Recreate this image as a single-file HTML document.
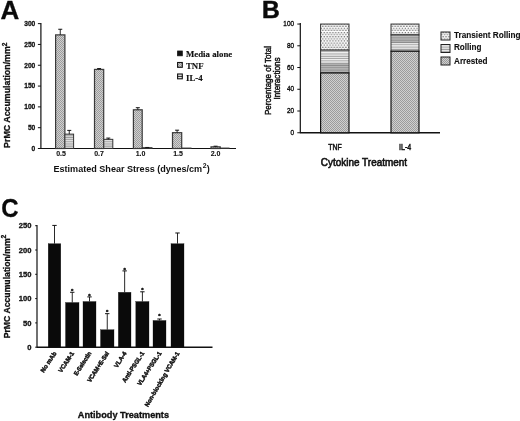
<!DOCTYPE html>
<html lang="en"><head><meta charset="utf-8"><title>Figure</title>
<style>
html,body{margin:0;padding:0;background:#fff;}
body{width:520px;height:421px;overflow:hidden;font-family:"Liberation Sans", Arial, Helvetica, sans-serif;}
svg{display:block;}
</style></head><body>
<svg width="520" height="421" viewBox="0 0 520 421">
<rect width="520" height="421" fill="#fff"/>
<defs>
<pattern id="pDot" width="2" height="2" patternUnits="userSpaceOnUse"><rect width="2" height="2" fill="#d0d0d0"/><rect width="1" height="1" fill="#9c9c9c"/><rect x="1" y="1" width="1" height="1" fill="#9c9c9c"/></pattern>
<pattern id="pHor" width="4" height="2.3" patternUnits="userSpaceOnUse"><rect width="4" height="2.3" fill="#f0f0f0"/><rect y="0.6" width="4" height="0.8" fill="#8a8a8a"/></pattern>
<pattern id="pSparse" width="2.9" height="4.2" patternUnits="userSpaceOnUse"><rect width="2.9" height="4.2" fill="#fbfbfb"/><rect x="0.2" y="0.5" width="1.3" height="1.1" fill="#5c5c5c"/><rect x="1.65" y="2.6" width="1.3" height="1.1" fill="#5c5c5c"/></pattern>
<pattern id="pHorA" width="4" height="2.2" patternUnits="userSpaceOnUse"><rect width="4" height="2.2" fill="#e2e2e2"/><rect y="0.5" width="4" height="0.8" fill="#8a8a8a"/></pattern>
</defs>
<text transform="translate(0.5 18.7) scale(1.04 1)" font-size="25" font-weight="bold" font-family='"Liberation Sans", Arial, Helvetica, sans-serif' fill="#0a0a0a" stroke="#0a0a0a" stroke-width="0.3">A</text>
<line x1="40.90" y1="23.00" x2="40.90" y2="149.00" stroke="#111" stroke-width="1.2"/>
<line x1="40.40" y1="148.50" x2="236.00" y2="148.50" stroke="#111" stroke-width="1.15"/>
<line x1="37.90" y1="148.50" x2="40.90" y2="148.50" stroke="#111" stroke-width="1"/>
<text x="35.3" y="150.9" font-size="7.4" font-weight="bold" text-anchor="end" font-family='"Liberation Sans", Arial, Helvetica, sans-serif' fill="#111" textLength="3.7" lengthAdjust="spacingAndGlyphs" stroke="#111" stroke-width="0.3">0</text>
<line x1="37.90" y1="127.69" x2="40.90" y2="127.69" stroke="#111" stroke-width="1"/>
<text x="35.3" y="130.09" font-size="7.4" font-weight="bold" text-anchor="end" font-family='"Liberation Sans", Arial, Helvetica, sans-serif' fill="#111" textLength="7.4" lengthAdjust="spacingAndGlyphs" stroke="#111" stroke-width="0.3">50</text>
<line x1="37.90" y1="106.88" x2="40.90" y2="106.88" stroke="#111" stroke-width="1"/>
<text x="35.3" y="109.28" font-size="7.4" font-weight="bold" text-anchor="end" font-family='"Liberation Sans", Arial, Helvetica, sans-serif' fill="#111" textLength="11.1" lengthAdjust="spacingAndGlyphs" stroke="#111" stroke-width="0.3">100</text>
<line x1="37.90" y1="86.07" x2="40.90" y2="86.07" stroke="#111" stroke-width="1"/>
<text x="35.3" y="88.47" font-size="7.4" font-weight="bold" text-anchor="end" font-family='"Liberation Sans", Arial, Helvetica, sans-serif' fill="#111" textLength="11.1" lengthAdjust="spacingAndGlyphs" stroke="#111" stroke-width="0.3">150</text>
<line x1="37.90" y1="65.26" x2="40.90" y2="65.26" stroke="#111" stroke-width="1"/>
<text x="35.3" y="67.66" font-size="7.4" font-weight="bold" text-anchor="end" font-family='"Liberation Sans", Arial, Helvetica, sans-serif' fill="#111" textLength="11.1" lengthAdjust="spacingAndGlyphs" stroke="#111" stroke-width="0.3">200</text>
<line x1="37.90" y1="44.45" x2="40.90" y2="44.45" stroke="#111" stroke-width="1"/>
<text x="35.3" y="46.85" font-size="7.4" font-weight="bold" text-anchor="end" font-family='"Liberation Sans", Arial, Helvetica, sans-serif' fill="#111" textLength="11.1" lengthAdjust="spacingAndGlyphs" stroke="#111" stroke-width="0.3">250</text>
<line x1="37.90" y1="23.64" x2="40.90" y2="23.64" stroke="#111" stroke-width="1"/>
<text x="35.3" y="26.04" font-size="7.4" font-weight="bold" text-anchor="end" font-family='"Liberation Sans", Arial, Helvetica, sans-serif' fill="#111" textLength="11.1" lengthAdjust="spacingAndGlyphs" stroke="#111" stroke-width="0.3">300</text>
<rect x="55.60" y="34.88" width="9.30" height="113.62" fill="url(#pDot)" stroke="#3a3a3a" stroke-width="1.2"/>
<line x1="60.25" y1="34.88" x2="60.25" y2="29.26" stroke="#111" stroke-width="0.9"/>
<line x1="58.25" y1="29.26" x2="62.25" y2="29.26" stroke="#111" stroke-width="1"/>
<rect x="64.90" y="134.14" width="8.70" height="14.36" fill="url(#pHorA)" stroke="#333" stroke-width="1.0"/>
<line x1="69.25" y1="134.14" x2="69.25" y2="130.40" stroke="#111" stroke-width="0.9"/>
<line x1="67.25" y1="130.40" x2="71.25" y2="130.40" stroke="#111" stroke-width="1"/>
<rect x="94.50" y="69.42" width="9.20" height="79.08" fill="url(#pDot)" stroke="#3a3a3a" stroke-width="1.2"/>
<line x1="99.10" y1="69.42" x2="99.10" y2="68.59" stroke="#111" stroke-width="0.9"/>
<line x1="97.10" y1="68.59" x2="101.10" y2="68.59" stroke="#111" stroke-width="1"/>
<rect x="103.80" y="139.34" width="9.00" height="9.16" fill="url(#pHorA)" stroke="#333" stroke-width="1.0"/>
<line x1="108.30" y1="139.34" x2="108.30" y2="138.09" stroke="#111" stroke-width="0.9"/>
<line x1="106.30" y1="138.09" x2="110.30" y2="138.09" stroke="#111" stroke-width="1"/>
<rect x="133.40" y="109.79" width="8.80" height="38.71" fill="url(#pDot)" stroke="#3a3a3a" stroke-width="1.2"/>
<line x1="137.80" y1="109.79" x2="137.80" y2="107.71" stroke="#111" stroke-width="0.9"/>
<line x1="135.80" y1="107.71" x2="139.80" y2="107.71" stroke="#111" stroke-width="1"/>
<rect x="142.50" y="147.67" width="9.50" height="0.83" fill="url(#pHorA)" stroke="#333" stroke-width="1.0"/>
<line x1="147.25" y1="147.67" x2="147.25" y2="147.46" stroke="#111" stroke-width="0.9"/>
<line x1="145.25" y1="147.46" x2="149.25" y2="147.46" stroke="#111" stroke-width="1"/>
<rect x="172.50" y="132.68" width="9.20" height="15.82" fill="url(#pDot)" stroke="#3a3a3a" stroke-width="1.2"/>
<line x1="177.10" y1="132.68" x2="177.10" y2="130.19" stroke="#111" stroke-width="0.9"/>
<line x1="175.10" y1="130.19" x2="179.10" y2="130.19" stroke="#111" stroke-width="1"/>
<rect x="182.00" y="148.08" width="9.00" height="0.42" fill="url(#pHorA)" stroke="#333" stroke-width="1.0"/>
<rect x="211.00" y="146.84" width="9.20" height="1.66" fill="url(#pDot)" stroke="#3a3a3a" stroke-width="1.2"/>
<line x1="215.60" y1="146.84" x2="215.60" y2="146.21" stroke="#111" stroke-width="0.9"/>
<line x1="213.60" y1="146.21" x2="217.60" y2="146.21" stroke="#111" stroke-width="1"/>
<rect x="220.50" y="148.08" width="8.50" height="0.42" fill="url(#pHorA)" stroke="#333" stroke-width="1.0"/>
<text x="61" y="156.4" font-size="7.0" font-weight="bold" text-anchor="middle" font-family='"Liberation Sans", Arial, Helvetica, sans-serif' fill="#111" stroke="#111" stroke-width="0.1">0.5</text>
<text x="99" y="156.4" font-size="7.0" font-weight="bold" text-anchor="middle" font-family='"Liberation Sans", Arial, Helvetica, sans-serif' fill="#111" stroke="#111" stroke-width="0.1">0.7</text>
<text x="140.5" y="156.4" font-size="7.0" font-weight="bold" text-anchor="middle" font-family='"Liberation Sans", Arial, Helvetica, sans-serif' fill="#111" stroke="#111" stroke-width="0.1">1.0</text>
<text x="178" y="156.4" font-size="7.0" font-weight="bold" text-anchor="middle" font-family='"Liberation Sans", Arial, Helvetica, sans-serif' fill="#111" stroke="#111" stroke-width="0.1">1.5</text>
<text x="215.5" y="156.4" font-size="7.0" font-weight="bold" text-anchor="middle" font-family='"Liberation Sans", Arial, Helvetica, sans-serif' fill="#111" stroke="#111" stroke-width="0.1">2.0</text>
<text x="53.5" y="172.3" font-size="9.07" font-weight="bold" text-anchor="start" font-family='"Liberation Sans", Arial, Helvetica, sans-serif' fill="#111" >Estimated Shear Stress (dynes/cm<tspan dy="-3.9" dx="0.6" font-size="6.9">2</tspan><tspan dy="3.9" dx="0.3">)</tspan></text>
<text transform="translate(10.0 147.9) rotate(-90)" font-size="8.83" font-weight="bold" font-family='"Liberation Sans", Arial, Helvetica, sans-serif' fill="#111" stroke="#111" stroke-width="0.3">PrMC Accumulation/mm<tspan dy="-3.3" font-size="6.6">2</tspan></text>
<rect x="177.60" y="51.00" width="4.70" height="4.80" fill="#111" stroke="#111" stroke-width="0.8"/>
<rect x="177.60" y="62.50" width="4.70" height="4.80" fill="url(#pDot)" stroke="#111" stroke-width="1.1"/>
<rect x="177.60" y="74.00" width="4.70" height="4.80" fill="#e8e8e8" stroke="#111" stroke-width="1.1"/>
<line x1="177.50" y1="76.40" x2="182.50" y2="76.40" stroke="#111" stroke-width="0.9"/>
<text x="186" y="57" font-size="8.8" font-weight="bold" text-anchor="start" font-family='"Liberation Serif", "Times New Roman", serif' fill="#111" stroke="#111" stroke-width="0.15">Media alone</text>
<text x="186" y="69" font-size="8.8" font-weight="bold" text-anchor="start" font-family='"Liberation Serif", "Times New Roman", serif' fill="#111" stroke="#111" stroke-width="0.15">TNF</text>
<text x="186" y="80.5" font-size="8.8" font-weight="bold" text-anchor="start" font-family='"Liberation Serif", "Times New Roman", serif' fill="#111" stroke="#111" stroke-width="0.15">IL-4</text>
<text transform="translate(262.0 18.2) scale(1 1)" font-size="24.6" font-weight="bold" font-family='"Liberation Sans", Arial, Helvetica, sans-serif' fill="#0a0a0a" stroke="#0a0a0a" stroke-width="0.5">B</text>
<line x1="300.30" y1="23.00" x2="300.30" y2="133.25" stroke="#111" stroke-width="1.2"/>
<line x1="300.30" y1="132.75" x2="440.00" y2="132.75" stroke="#111" stroke-width="1.4"/>
<line x1="297.30" y1="132.75" x2="300.30" y2="132.75" stroke="#111" stroke-width="1"/>
<text x="294.0" y="134.75" font-size="8" font-weight="normal" text-anchor="end" font-family='"Liberation Sans", Arial, Helvetica, sans-serif' fill="#111" textLength="3.55" lengthAdjust="spacingAndGlyphs" stroke="#111" stroke-width="0.4">0</text>
<line x1="297.30" y1="111.01" x2="300.30" y2="111.01" stroke="#111" stroke-width="1"/>
<text x="294.0" y="113.01" font-size="8" font-weight="normal" text-anchor="end" font-family='"Liberation Sans", Arial, Helvetica, sans-serif' fill="#111" textLength="7.1" lengthAdjust="spacingAndGlyphs" stroke="#111" stroke-width="0.4">20</text>
<line x1="297.30" y1="89.27" x2="300.30" y2="89.27" stroke="#111" stroke-width="1"/>
<text x="294.0" y="91.27" font-size="8" font-weight="normal" text-anchor="end" font-family='"Liberation Sans", Arial, Helvetica, sans-serif' fill="#111" textLength="7.1" lengthAdjust="spacingAndGlyphs" stroke="#111" stroke-width="0.4">40</text>
<line x1="297.30" y1="67.53" x2="300.30" y2="67.53" stroke="#111" stroke-width="1"/>
<text x="294.0" y="69.53" font-size="8" font-weight="normal" text-anchor="end" font-family='"Liberation Sans", Arial, Helvetica, sans-serif' fill="#111" textLength="7.1" lengthAdjust="spacingAndGlyphs" stroke="#111" stroke-width="0.4">60</text>
<line x1="297.30" y1="45.79" x2="300.30" y2="45.79" stroke="#111" stroke-width="1"/>
<text x="294.0" y="47.79" font-size="8" font-weight="normal" text-anchor="end" font-family='"Liberation Sans", Arial, Helvetica, sans-serif' fill="#111" textLength="7.1" lengthAdjust="spacingAndGlyphs" stroke="#111" stroke-width="0.4">80</text>
<line x1="297.30" y1="24.05" x2="300.30" y2="24.05" stroke="#111" stroke-width="1"/>
<text x="294.0" y="26.05" font-size="8" font-weight="normal" text-anchor="end" font-family='"Liberation Sans", Arial, Helvetica, sans-serif' fill="#111" textLength="10.65" lengthAdjust="spacingAndGlyphs" stroke="#111" stroke-width="0.4">100</text>
<rect x="320.60" y="24.05" width="28.40" height="26.09" fill="url(#pSparse)" stroke="#333" stroke-width="1.0"/>
<rect x="320.60" y="50.14" width="28.40" height="22.83" fill="url(#pHor)" stroke="#333" stroke-width="1.0"/>
<rect x="321.0" y="63.18" width="27.599999999999977" height="9.24" fill="#777" opacity="0.45"/>
<rect x="320.60" y="72.97" width="28.40" height="59.78" fill="url(#pDot)" stroke="#111" stroke-width="1.2"/>
<rect x="391.00" y="24.05" width="28.00" height="10.87" fill="url(#pSparse)" stroke="#333" stroke-width="1.0"/>
<rect x="391.00" y="34.92" width="28.00" height="16.30" fill="url(#pHor)" stroke="#333" stroke-width="1.0"/>
<rect x="391.4" y="36.01" width="27.2" height="7.07" fill="#777" opacity="0.45"/>
<rect x="391.00" y="51.23" width="28.00" height="81.52" fill="url(#pDot)" stroke="#111" stroke-width="1.2"/>
<text x="335" y="150" font-size="9" font-weight="normal" text-anchor="middle" font-family='"Liberation Sans", Arial, Helvetica, sans-serif' fill="#111" textLength="13.5" lengthAdjust="spacingAndGlyphs" stroke="#111" stroke-width="0.5">TNF</text>
<text x="405.2" y="150" font-size="9" font-weight="normal" text-anchor="middle" font-family='"Liberation Sans", Arial, Helvetica, sans-serif' fill="#111" textLength="12.3" lengthAdjust="spacingAndGlyphs" stroke="#111" stroke-width="0.5">IL-4</text>
<text x="320.8" y="165.9" font-size="10.6" font-weight="normal" text-anchor="start" font-family='"Liberation Sans", Arial, Helvetica, sans-serif' fill="#111" textLength="86.3" lengthAdjust="spacingAndGlyphs" stroke="#111" stroke-width="0.6">Cytokine Treatment</text>
<text transform="translate(271.2 80.5) rotate(-90)" font-size="8.7" text-anchor="middle" font-family='"Liberation Sans", Arial, Helvetica, sans-serif' fill="#111" textLength="69" lengthAdjust="spacingAndGlyphs" stroke="#111" stroke-width="0.45">Percentage of Total</text>
<text transform="translate(280.4 78.4) rotate(-90)" font-size="8.7" text-anchor="middle" font-family='"Liberation Sans", Arial, Helvetica, sans-serif' fill="#111" textLength="42" lengthAdjust="spacingAndGlyphs" stroke="#111" stroke-width="0.45">Interactions</text>
<rect x="441.00" y="32.00" width="9.00" height="8.00" fill="url(#pSparse)" stroke="#222" stroke-width="1.0"/>
<rect x="441.00" y="44.50" width="9.00" height="8.00" fill="url(#pHor)" stroke="#222" stroke-width="1.0"/>
<rect x="441.00" y="57.00" width="9.00" height="8.00" fill="url(#pDot)" stroke="#222" stroke-width="1.0"/>
<text x="454" y="37.7" font-size="8.8" font-weight="bold" text-anchor="start" font-family='"Liberation Sans", Arial, Helvetica, sans-serif' fill="#111" textLength="66.5" lengthAdjust="spacingAndGlyphs" stroke="#111" stroke-width="0.1">Transient Rolling</text>
<text x="454" y="50.4" font-size="8.8" font-weight="bold" text-anchor="start" font-family='"Liberation Sans", Arial, Helvetica, sans-serif' fill="#111" textLength="27.5" lengthAdjust="spacingAndGlyphs" stroke="#111" stroke-width="0.1">Rolling</text>
<text x="454" y="63.5" font-size="8.8" font-weight="bold" text-anchor="start" font-family='"Liberation Sans", Arial, Helvetica, sans-serif' fill="#111" textLength="33.5" lengthAdjust="spacingAndGlyphs" stroke="#111" stroke-width="0.1">Arrested</text>
<text transform="translate(1.3 217.1) scale(0.96 1)" font-size="25" font-weight="bold" font-family='"Liberation Sans", Arial, Helvetica, sans-serif' fill="#0a0a0a" stroke="#0a0a0a" stroke-width="0.3">C</text>
<line x1="37.00" y1="225.00" x2="37.00" y2="347.70" stroke="#111" stroke-width="1.2"/>
<line x1="37.00" y1="347.20" x2="212.50" y2="347.20" stroke="#111" stroke-width="1.4"/>
<line x1="35.20" y1="347.20" x2="37.00" y2="347.20" stroke="#111" stroke-width="1"/>
<text x="31.5" y="349.9" font-size="7.6" font-weight="bold" text-anchor="end" font-family='"Liberation Sans", Arial, Helvetica, sans-serif' fill="#111" stroke="#111" stroke-width="0.3">0</text>
<line x1="35.20" y1="322.90" x2="37.00" y2="322.90" stroke="#111" stroke-width="1"/>
<text x="31.5" y="325.6" font-size="7.6" font-weight="bold" text-anchor="end" font-family='"Liberation Sans", Arial, Helvetica, sans-serif' fill="#111" stroke="#111" stroke-width="0.3">50</text>
<line x1="35.20" y1="298.60" x2="37.00" y2="298.60" stroke="#111" stroke-width="1"/>
<text x="31.5" y="301.3" font-size="7.6" font-weight="bold" text-anchor="end" font-family='"Liberation Sans", Arial, Helvetica, sans-serif' fill="#111" stroke="#111" stroke-width="0.3">100</text>
<line x1="35.20" y1="274.30" x2="37.00" y2="274.30" stroke="#111" stroke-width="1"/>
<text x="31.5" y="277.0" font-size="7.6" font-weight="bold" text-anchor="end" font-family='"Liberation Sans", Arial, Helvetica, sans-serif' fill="#111" stroke="#111" stroke-width="0.3">150</text>
<line x1="35.20" y1="250.00" x2="37.00" y2="250.00" stroke="#111" stroke-width="1"/>
<text x="31.5" y="252.7" font-size="7.6" font-weight="bold" text-anchor="end" font-family='"Liberation Sans", Arial, Helvetica, sans-serif' fill="#111" stroke="#111" stroke-width="0.3">200</text>
<line x1="35.20" y1="225.70" x2="37.00" y2="225.70" stroke="#111" stroke-width="1"/>
<text x="31.5" y="228.4" font-size="7.6" font-weight="bold" text-anchor="end" font-family='"Liberation Sans", Arial, Helvetica, sans-serif' fill="#111" stroke="#111" stroke-width="0.3">250</text>
<rect x="48.20" y="243.68" width="12.60" height="103.52" fill="#0a0a0a" stroke="#111" stroke-width="0.3"/>
<line x1="54.50" y1="243.68" x2="54.50" y2="225.41" stroke="#111" stroke-width="0.9"/>
<line x1="52.30" y1="225.41" x2="56.70" y2="225.41" stroke="#111" stroke-width="1"/>
<text x="56.7" y="353.3" font-size="6.15" font-weight="bold" text-anchor="end" font-family='"Liberation Sans", Arial, Helvetica, sans-serif' fill="#111" transform="rotate(-57 56.7 353.3)" stroke="#111" stroke-width="0.45">No mAb</text>
<rect x="65.50" y="302.49" width="13.50" height="44.71" fill="#0a0a0a" stroke="#111" stroke-width="0.3"/>
<line x1="72.25" y1="302.49" x2="72.25" y2="292.28" stroke="#111" stroke-width="0.9"/>
<line x1="70.05" y1="292.28" x2="74.45" y2="292.28" stroke="#111" stroke-width="1"/>
<text x="72.25" y="292.88" font-size="6" font-weight="bold" text-anchor="middle" font-family='"Liberation Sans", Arial, Helvetica, sans-serif' fill="#111" stroke="#111" stroke-width="0.4">*</text>
<text x="74.45" y="353.3" font-size="6.15" font-weight="bold" text-anchor="end" font-family='"Liberation Sans", Arial, Helvetica, sans-serif' fill="#111" transform="rotate(-57 74.45 353.3)" stroke="#111" stroke-width="0.45">VCAM-1</text>
<rect x="83.00" y="301.52" width="13.00" height="45.68" fill="#0a0a0a" stroke="#111" stroke-width="0.3"/>
<line x1="89.50" y1="301.52" x2="89.50" y2="296.90" stroke="#111" stroke-width="0.9"/>
<line x1="87.30" y1="296.90" x2="91.70" y2="296.90" stroke="#111" stroke-width="1"/>
<text x="89.5" y="297.5" font-size="6" font-weight="bold" text-anchor="middle" font-family='"Liberation Sans", Arial, Helvetica, sans-serif' fill="#111" stroke="#111" stroke-width="0.4">*</text>
<text x="91.7" y="353.3" font-size="6.15" font-weight="bold" text-anchor="end" font-family='"Liberation Sans", Arial, Helvetica, sans-serif' fill="#111" textLength="27.2" lengthAdjust="spacingAndGlyphs" transform="rotate(-57 91.7 353.3)" stroke="#111" stroke-width="0.45">E-Selectin</text>
<rect x="100.50" y="329.70" width="13.50" height="17.50" fill="#0a0a0a" stroke="#111" stroke-width="0.3"/>
<line x1="107.25" y1="329.70" x2="107.25" y2="313.67" stroke="#111" stroke-width="0.9"/>
<line x1="105.05" y1="313.67" x2="109.45" y2="313.67" stroke="#111" stroke-width="1"/>
<text x="107.25" y="314.27" font-size="6" font-weight="bold" text-anchor="middle" font-family='"Liberation Sans", Arial, Helvetica, sans-serif' fill="#111" stroke="#111" stroke-width="0.4">*</text>
<text x="109.45" y="353.3" font-size="6.15" font-weight="bold" text-anchor="end" font-family='"Liberation Sans", Arial, Helvetica, sans-serif' fill="#111" textLength="35" lengthAdjust="spacingAndGlyphs" transform="rotate(-57 109.45 353.3)" stroke="#111" stroke-width="0.45">VCAM+E-Sel</text>
<rect x="118.30" y="292.28" width="12.70" height="54.92" fill="#0a0a0a" stroke="#111" stroke-width="0.3"/>
<line x1="124.65" y1="292.28" x2="124.65" y2="270.90" stroke="#111" stroke-width="0.9"/>
<line x1="122.45" y1="270.90" x2="126.85" y2="270.90" stroke="#111" stroke-width="1"/>
<text x="124.65" y="271.5" font-size="6" font-weight="bold" text-anchor="middle" font-family='"Liberation Sans", Arial, Helvetica, sans-serif' fill="#111" stroke="#111" stroke-width="0.4">*</text>
<text x="126.85" y="353.3" font-size="6.15" font-weight="bold" text-anchor="end" font-family='"Liberation Sans", Arial, Helvetica, sans-serif' fill="#111" transform="rotate(-57 126.85 353.3)" stroke="#111" stroke-width="0.45">VLA-4</text>
<rect x="135.80" y="301.52" width="13.20" height="45.68" fill="#0a0a0a" stroke="#111" stroke-width="0.3"/>
<line x1="142.40" y1="301.52" x2="142.40" y2="291.80" stroke="#111" stroke-width="0.9"/>
<line x1="140.20" y1="291.80" x2="144.60" y2="291.80" stroke="#111" stroke-width="1"/>
<text x="142.4" y="292.4" font-size="6" font-weight="bold" text-anchor="middle" font-family='"Liberation Sans", Arial, Helvetica, sans-serif' fill="#111" stroke="#111" stroke-width="0.4">*</text>
<text x="144.6" y="353.3" font-size="6.15" font-weight="bold" text-anchor="end" font-family='"Liberation Sans", Arial, Helvetica, sans-serif' fill="#111" textLength="35.4" lengthAdjust="spacingAndGlyphs" transform="rotate(-57 144.6 353.3)" stroke="#111" stroke-width="0.45">Anti-PSGL-1</text>
<rect x="153.00" y="320.47" width="13.00" height="26.73" fill="#0a0a0a" stroke="#111" stroke-width="0.3"/>
<line x1="159.50" y1="320.47" x2="159.50" y2="319.01" stroke="#111" stroke-width="0.9"/>
<line x1="157.30" y1="319.01" x2="161.70" y2="319.01" stroke="#111" stroke-width="1"/>
<text x="159.5" y="318.31" font-size="6" font-weight="bold" text-anchor="middle" font-family='"Liberation Sans", Arial, Helvetica, sans-serif' fill="#111" stroke="#111" stroke-width="0.4">*</text>
<text x="161.7" y="353.3" font-size="6.15" font-weight="bold" text-anchor="end" font-family='"Liberation Sans", Arial, Helvetica, sans-serif' fill="#111" textLength="39" lengthAdjust="spacingAndGlyphs" transform="rotate(-57 161.7 353.3)" stroke="#111" stroke-width="0.45">VLA4+PSGL-1</text>
<rect x="171.00" y="243.68" width="13.00" height="103.52" fill="#0a0a0a" stroke="#111" stroke-width="0.3"/>
<line x1="177.50" y1="243.68" x2="177.50" y2="232.99" stroke="#111" stroke-width="0.9"/>
<line x1="175.30" y1="232.99" x2="179.70" y2="232.99" stroke="#111" stroke-width="1"/>
<text x="179.7" y="353.3" font-size="6.15" font-weight="bold" text-anchor="end" font-family='"Liberation Sans", Arial, Helvetica, sans-serif' fill="#111" textLength="62.5" lengthAdjust="spacingAndGlyphs" transform="rotate(-59.5 179.7 353.3)" stroke="#111" stroke-width="0.45">Non-blocking VCAM-1</text>
<text x="77.8" y="417.8" font-size="9.6" font-weight="bold" text-anchor="start" font-family='"Liberation Sans", Arial, Helvetica, sans-serif' fill="#111" textLength="91.2" lengthAdjust="spacingAndGlyphs" stroke="#111" stroke-width="0.35">Antibody Treatments</text>
<text transform="translate(9.7 338.3) rotate(-90)" font-size="8.68" font-weight="bold" font-family='"Liberation Sans", Arial, Helvetica, sans-serif' fill="#111" stroke="#111" stroke-width="0.3">PrMC Accumulation/mm<tspan dy="-4.0" font-size="6.8">2</tspan></text>
</svg>
</body></html>
